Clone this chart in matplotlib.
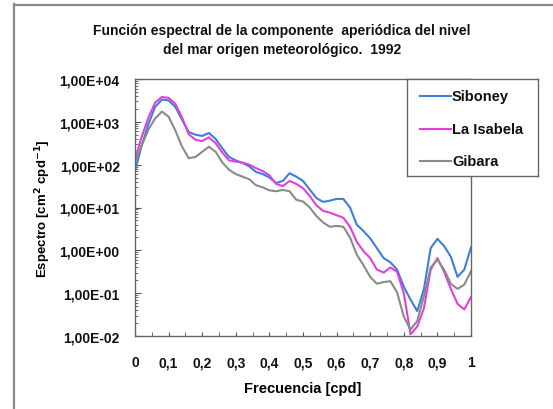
import numpy as np
import matplotlib
matplotlib.use("Agg")
import matplotlib.pyplot as plt
from matplotlib.lines import Line2D
from matplotlib.ticker import FixedLocator, LogLocator, NullFormatter

# Frequency grid (cpd)
frecuencia = [round(0.02 * i, 2) for i in range(51)]

# Spectral density, log10 of cm^2 cpd^-1
log_siboney = [1.85, 2.45, 2.95, 3.35, 3.52, 3.50, 3.35, 3.05, 2.76, 2.70,
               2.67, 2.74, 2.60, 2.38, 2.18, 2.10, 2.04, 1.96, 1.83, 1.78,
               1.70, 1.57, 1.62, 1.80, 1.72, 1.62, 1.42, 1.22, 1.13, 1.16,
               1.20, 1.20, 1.00, 0.60, 0.45, 0.28, 0.05, -0.18, -0.28, -0.45,
               -0.85, -1.15, -1.42, -0.90, 0.05, 0.27, 0.10, -0.15, -0.62, -0.45,
               0.07]
log_isabela = [2.13, 2.65, 3.10, 3.45, 3.58, 3.56, 3.42, 3.10, 2.71, 2.58,
               2.55, 2.64, 2.50, 2.28, 2.10, 2.07, 2.05, 2.00, 1.92, 1.85,
               1.75, 1.55, 1.50, 1.62, 1.55, 1.45, 1.27, 1.05, 0.92, 0.88,
               0.82, 0.76, 0.55, 0.20, -0.02, -0.18, -0.45, -0.52, -0.40, -0.50,
               -1.00, -1.96, -1.78, -1.35, -0.45, -0.18, -0.50, -0.90, -1.25, -1.38,
               -1.09]
log_gibara = [2.06, 2.45, 2.82, 3.08, 3.24, 3.12, 2.80, 2.42, 2.15, 2.18,
              2.30, 2.42, 2.30, 2.05, 1.88, 1.78, 1.72, 1.66, 1.52, 1.47,
              1.40, 1.38, 1.41, 1.38, 1.18, 1.14, 1.00, 0.80, 0.65, 0.55,
              0.57, 0.55, 0.30, -0.10, -0.35, -0.62, -0.78, -0.74, -0.72, -0.98,
              -1.55, -1.85, -1.65, -1.07, -0.40, -0.22, -0.45, -0.78, -0.90, -0.80,
              -0.49]

estaciones = ["Siboney", "La Isabela", "Gibara"]
colores = ["#3d7fd6", "#e33ee0", "#8a8a8a"]

x_ticks = [round(0.1 * i, 1) for i in range(11)]
x_labels = ["0", "0,1", "0,2", "0,3", "0,4", "0,5", "0,6", "0,7", "0,8", "0,9", "1"]
y_ticks = [1e-2, 1e-1, 1e0, 1e1, 1e2, 1e3, 1e4]
y_labels = ["1,00E-02", "1,00E-01", "1,00E+00", "1,00E+01",
            "1,00E+02", "1,00E+03", "1,00E+04"]

plt.rcParams["font.family"] = ["Liberation Sans", "DejaVu Sans"]
plt.rcParams["font.weight"] = "bold"

W, H = 553, 410
fig = plt.figure(figsize=(W / 100, H / 100), dpi=100)
fig.patch.set_facecolor("white")

def fx(px):
    return px / W

def fy(py):
    return 1 - py / H

# outer frame
fig.add_artist(Line2D([fx(14), fx(14)], [fy(5), 0], color="#888888", lw=1.6,
                      transform=fig.transFigure))
fig.add_artist(Line2D([fx(14), 1], [fy(5.5), fy(5.5)], color="#888888", lw=1.6,
                      transform=fig.transFigure))

left, right, top, bottom = 135, 471, 80, 337
ax = fig.add_axes([fx(left), fy(bottom), fx(right - left), (bottom - top) / H])

series = [log_siboney, log_isabela, log_gibara]
for nombre, vals, c in zip(estaciones, series, colores):
    ax.plot(frecuencia, 10 ** np.array(vals), color=c, lw=1.5, label=nombre)

ax.set_yscale("log")
ax.set_xlim(0, 1)
ax.set_ylim(1e-2, 1e4)
ax.xaxis.set_major_locator(FixedLocator(x_ticks))
ax.set_xticklabels(x_labels)
ax.xaxis.set_minor_locator(FixedLocator([0.05 + 0.1 * i for i in range(10)]))
ax.yaxis.set_major_locator(FixedLocator(y_ticks))
ax.set_yticklabels(y_labels)
ax.yaxis.set_minor_locator(LogLocator(base=10, subs=np.arange(2, 10), numticks=20))
ax.yaxis.set_minor_formatter(NullFormatter())
ax.tick_params(axis="both", which="both", direction="in", colors="#555555",
               labelcolor="#111111", labelsize=10)
ax.tick_params(axis="y", which="major", length=4, pad=11)
ax.tick_params(axis="y", which="minor", length=2.5)
ax.tick_params(axis="x", which="both", length=3, pad=14)
for s in ax.spines.values():
    s.set_color("#666666")
    s.set_linewidth(1.0)

ax.set_xlabel("Frecuencia [cpd]", fontsize=10.5, fontweight="bold", labelpad=8)
ax.set_ylabel("Espectro [cm$^{2}$ cpd$^{-1}$]", fontsize=9.5, fontweight="bold",
              labelpad=5)

fig.text(fx(282), fy(31), "Función espectral de la componente  aperiódica del nivel",
         ha="center", va="center", fontsize=10, fontweight="bold", color="#111111")
fig.text(fx(282), fy(50), "del mar origen meteorológico.  1992",
         ha="center", va="center", fontsize=10, fontweight="bold", color="#111111")

# legend box
leg_ax = fig.add_axes([fx(407), fy(177), fx(538 - 407), (177 - 80) / H])
leg_ax.set_xlim(407, 538)
leg_ax.set_ylim(177, 80)
leg_ax.set_xticks([])
leg_ax.set_yticks([])
for s in leg_ax.spines.values():
    s.set_color("#666666")
    s.set_linewidth(1.0)
for nombre, c, yy in zip(estaciones, colores, [97, 130, 162]):
    leg_ax.plot([420, 451], [yy, yy], color=c, lw=1.5)
    leg_ax.text(452, yy, nombre, va="center", ha="left", fontsize=10.5,
                fontweight="bold", color="#111111")

fig.savefig("out.png", dpi=100)
